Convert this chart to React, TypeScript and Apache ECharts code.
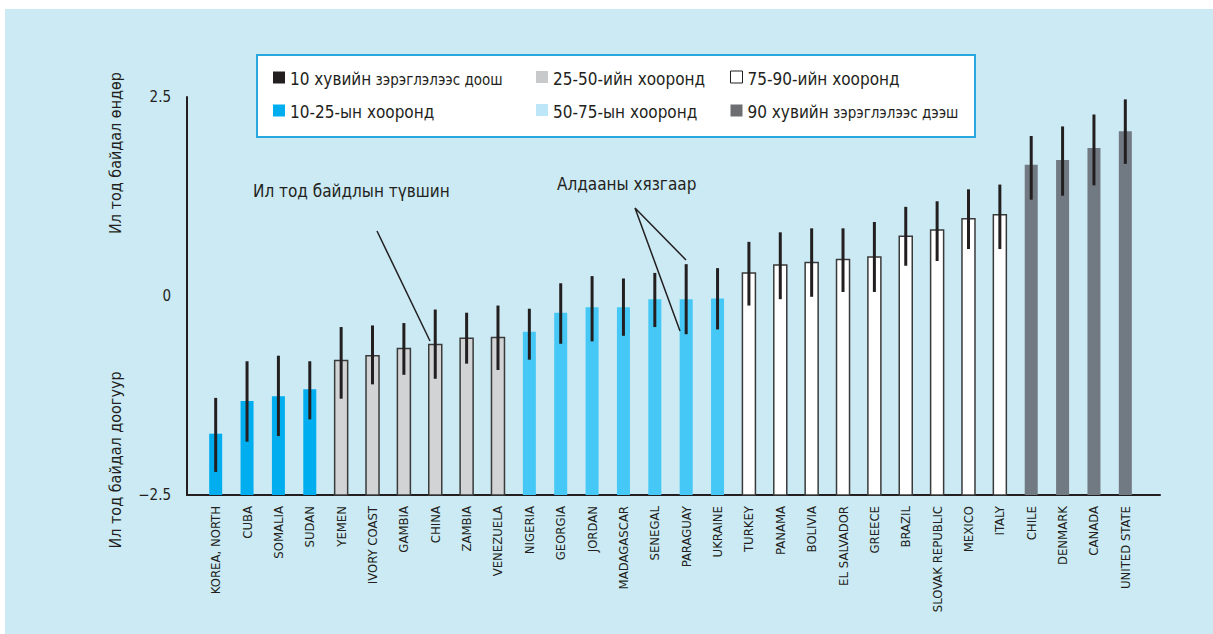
import React, { useEffect, useRef } from "react";
import * as echarts from "echarts";

const categories = [
  "KOREA, NORTH", "CUBA", "SOMALIA", "SUDAN", "YEMEN", "IVORY COAST", "GAMBIA", "CHINA",
  "ZAMBIA", "VENEZUELA", "NIGERIA", "GEORGIA", "JORDAN", "MADAGASCAR", "SENEGAL", "PARAGUAY",
  "UKRAINE", "TURKEY", "PANAMA", "BOLIVIA", "EL SALVADOR", "GREECE", "BRAZIL", "SLOVAK REPUBLIC",
  "MEXICO", "ITALY", "CHILE", "DENMARK", "CANADA", "UNITED STATE",
];
const values = [
  -1.73, -1.32, -1.26, -1.17, -0.81, -0.75, -0.66, -0.61, -0.53, -0.52,
  -0.45, -0.21, -0.14, -0.14, -0.04, -0.04, -0.03, 0.29, 0.39, 0.42,
  0.46, 0.49, 0.75, 0.83, 0.97, 1.02, 1.65, 1.71, 1.86, 2.07,
];
const errLow = [
  -2.21, -1.83, -1.76, -1.55, -1.29, -1.11, -0.99, -1.04, -0.85, -0.93,
  -0.80, -0.60, -0.57, -0.50, -0.39, -0.48, -0.42, -0.12, -0.04, -0.01,
  0.05, 0.05, 0.38, 0.44, 0.59, 0.59, 1.21, 1.26, 1.39, 1.66,
];
const errHigh = [
  -1.28, -0.82, -0.75, -0.82, -0.39, -0.37, -0.34, -0.17, -0.21, -0.12,
  -0.16, 0.16, 0.25, 0.22, 0.29, 0.40, 0.35, 0.68, 0.80, 0.85,
  0.85, 0.93, 1.12, 1.19, 1.34, 1.40, 2.01, 2.13, 2.28, 2.47,
];
const groupNames = [
  "10 хувийн зэрэглэлээс доош",
  "10-25-ын хооронд",
  "25-50-ийн хооронд",
  "50-75-ын хооронд",
  "75-90-ийн хооронд",
  "90 хувийн зэрэглэлээс дээш",
];
const groupOf = [
  1, 1, 1, 1, 2, 2, 2, 2, 2, 2,
  3, 3, 3, 3, 3, 3, 3, 4, 4, 4,
  4, 4, 4, 4, 4, 4, 5, 5, 5, 5,
];
const yMin = -2.5;
const yMax = 2.5;
const yStep = 2.5;

const groupFill = ["#231F20", "#00AEEF", "#D1D3D4", "#45C8F5", "#FFFFFF", "#717A82"];
const groupBorder = [null, null, "#3A3A3A", null, "#3A3A3A", null];
const legendFill = ["#231F20", "#00AEEF", "#C8C9CB", "#BDE6F9", "#FFFFFF", "#6D6E71"];

const FONT = '"Liberation Sans Narrow", "DejaVu Sans Condensed", "Roboto Condensed", Roboto, sans-serif';
const INK = "#231F20";

export default function App() {
  const ref = useRef<HTMLDivElement>(null);
  useEffect(() => {
    const chart = echarts.init(ref.current!, null, { renderer: "svg" });

    const barSeries = groupNames.map((g, gi) => {
      const data: any[] = [];
      categories.forEach((c, i) => {
        if (groupOf[i] === gi) data.push([c, values[i]]);
      });
      return {
        name: g,
        type: "custom",
        xAxisIndex: 1,
        yAxisIndex: 1,
        itemStyle: { color: groupFill[gi] },
        renderItem: (params: any, api: any) => {
          const top = api.coord([api.value(0), api.value(1)]);
          const base = api.coord([api.value(0), yMin]);
          const w = 13;
          const hasBorder = !!groupBorder[gi];
          return {
            type: "rect",
            shape: { x: top[0] - w / 2, y: top[1], width: w, height: base[1] - top[1] },
            style: {
              fill: groupFill[gi],
              stroke: hasBorder ? groupBorder[gi] : "none",
              lineWidth: hasBorder ? 1.5 : 0,
            },
          };
        },
        data,
        z: 2,
      };
    });

    const errSeries = {
      name: "err",
      type: "custom",
      xAxisIndex: 1,
      yAxisIndex: 1,
      renderItem: (params: any, api: any) => {
        const lo = api.coord([api.value(0), api.value(1)]);
        const hi = api.coord([api.value(0), api.value(2)]);
        return {
          type: "line",
          shape: { x1: lo[0], y1: lo[1], x2: hi[0], y2: hi[1] },
          style: { stroke: INK, lineWidth: 3 },
        };
      },
      data: categories.map((c, i) => [c, errLow[i], errHigh[i]]),
      z: 5,
    };

    const legendFormatter = (name: string) => {
      const m = name.match(/^(\d+ хувийн) (.*)$/);
      if (m) return `{a|${m[1]}} {b|${m[2]}}`;
      return `{a|${name}}`;
    };
    const legendRich = {
      a: { fontFamily: FONT, fontSize: 17, color: INK, lineHeight: 20, verticalAlign: "bottom" },
      b: {
        fontFamily: FONT,
        fontSize: 15,
        color: INK,
        lineHeight: 20,
        verticalAlign: "bottom",
      },
    };
    const mkLegend = (left: number, idx: number[]) => ({
      orient: "vertical",
      left,
      top: 65,
      itemGap: 16,
      itemWidth: 12,
      itemHeight: 12,
      icon: "rect",
      selectedMode: false,
      formatter: legendFormatter,
      textStyle: { rich: legendRich, padding: [0, 0, 0, 0], fontSize: 15 },
      data: idx.map((gi) => ({
        name: groupNames[gi],
        itemStyle: {
          color: legendFill[gi],
          borderColor: gi === 4 ? INK : legendFill[gi],
          borderWidth: gi === 4 ? 1 : 0,
        },
      })),
    });

    chart.setOption({
      animation: false,
      backgroundColor: "#FFFFFF",
      textStyle: { fontFamily: FONT },
      grid: [
        { left: 187, right: 53, top: 97, bottom: 139 },
        { left: 200, right: 72, top: 97, bottom: 139 },
      ],
      legend: [mkLegend(268, [0, 1]), mkLegend(531, [2, 3]), mkLegend(725, [4, 5])],
      xAxis: [
        {
          gridIndex: 0,
          type: "value",
          min: 0,
          max: 1,
          axisLine: { show: true, lineStyle: { color: INK, width: 2 }, onZero: false },
          axisTick: { show: false },
          axisLabel: { show: false },
          splitLine: { show: false },
        },
        {
          gridIndex: 1,
          type: "category",
          data: categories,
          boundaryGap: true,
          axisLine: { show: false },
          axisTick: { show: false },
          axisLabel: {
            rotate: 90,
            interval: 0,
            fontFamily: FONT,
            fontSize: 13,
            color: INK,
            margin: 11,
          },
        },
      ],
      yAxis: [
        {
          gridIndex: 0,
          type: "value",
          min: yMin,
          max: yMax,
          interval: yStep,
          axisLine: { show: true, lineStyle: { color: INK, width: 2 } },
          axisTick: { show: false },
          splitLine: { show: false },
          axisLabel: {
            fontFamily: FONT,
            fontSize: 15,
            color: INK,
            margin: 16,
            formatter: (v: number) => (v < 0 ? "\u2212" + Math.abs(v) : String(v)),
          },
        },
        {
          gridIndex: 1,
          type: "value",
          min: yMin,
          max: yMax,
          show: false,
          splitLine: { show: false },
        },
      ],
      graphic: [
        {
          type: "rect",
          z: -10,
          shape: { x: 5, y: 9, width: 1208, height: 625 },
          style: { fill: "#CBEAF4" },
        },
        {
          type: "rect",
          z: 0,
          shape: { x: 257, y: 55, width: 718, height: 82 },
          style: { fill: "#FFFFFF", stroke: "#29A9DF", lineWidth: 2 },
        },
        {
          type: "text",
          x: 115,
          y: 153,
          rotation: Math.PI / 2,
          style: {
            text: "Ил тод байдал өндөр",
            fontFamily: FONT,
            fontSize: 16,
            fill: INK,
            align: "center",
            verticalAlign: "middle",
          },
        },
        {
          type: "text",
          x: 115,
          y: 460,
          rotation: Math.PI / 2,
          style: {
            text: "Ил тод байдал доогуур",
            fontFamily: FONT,
            fontSize: 16,
            fill: INK,
            align: "center",
            verticalAlign: "middle",
          },
        },
        {
          type: "text",
          x: 253,
          y: 191,
          style: {
            text: "Ил тод байдлын түвшин",
            fontFamily: FONT,
            fontSize: 17,
            fill: INK,
            align: "left",
            verticalAlign: "middle",
          },
        },
        {
          type: "line",
          shape: { x1: 377, y1: 231, x2: 430, y2: 341 },
          style: { stroke: INK, lineWidth: 1.5 },
          z: 10,
        },
        {
          type: "text",
          x: 557,
          y: 184,
          style: {
            text: "Алдааны хязгаар",
            fontFamily: FONT,
            fontSize: 17,
            fill: INK,
            align: "left",
            verticalAlign: "middle",
          },
        },
        {
          type: "polyline",
          shape: { points: [[686, 260], [635, 208], [680, 331]] },
          style: { stroke: INK, lineWidth: 1.5, fill: "none" },
          z: 10,
        },
      ],
      series: [...barSeries, errSeries],
    });
    return () => chart.dispose();
  }, []);
  return (
    <div
      ref={ref}
      style={{ position: "fixed", left: 0, top: 0, width: 1213, height: 634 }}
    />
  );
}
